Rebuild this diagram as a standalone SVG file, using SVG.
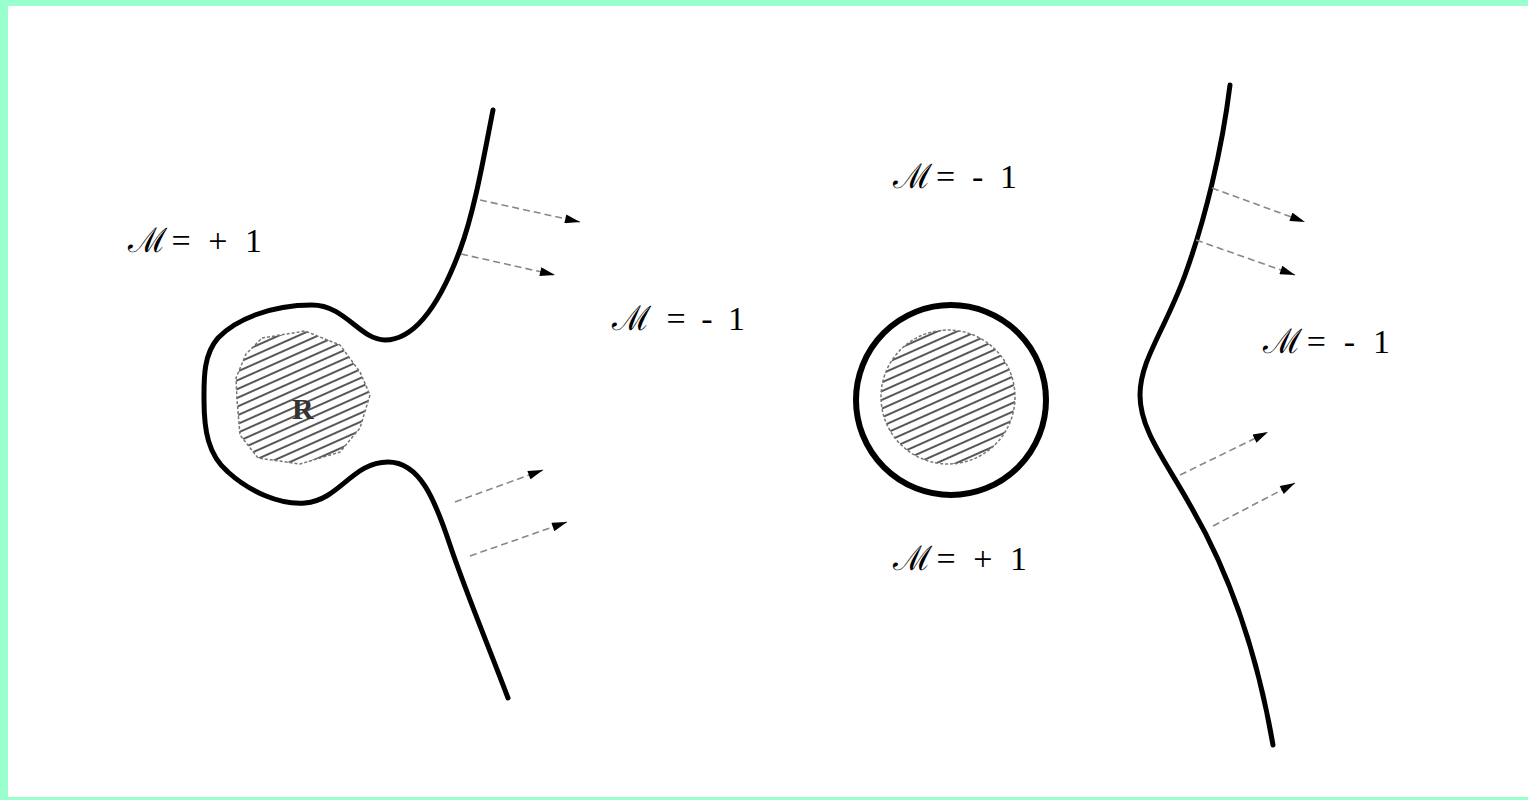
<svg xmlns="http://www.w3.org/2000/svg" width="1528" height="800" viewBox="0 0 1528 800">
<style>
.curve{fill:none;stroke:#000;stroke-width:5;stroke-linecap:round;stroke-linejoin:round}
.arrow{fill:none;stroke:#888;stroke-width:1.6;stroke-dasharray:7 4;marker-end:url(#ah)}
.lbl{font-family:"Liberation Serif",serif;font-size:34px;fill:#000}
.m{font-family:"DejaVu Serif",serif}
.blob{fill:url(#hatch);stroke:#777;stroke-width:1.5;stroke-dasharray:3 2}
</style>
<defs>
<pattern id="hatch" patternUnits="userSpaceOnUse" width="8" height="8" patternTransform="rotate(-24)">
<rect width="8" height="8" fill="#fff"/>
<line x1="0" y1="4" x2="8" y2="4" stroke="#444" stroke-width="1.8"/>
</pattern>
<marker id="ah" viewBox="0 0 10 6" refX="10" refY="3" markerWidth="16" markerHeight="9" markerUnits="userSpaceOnUse" orient="auto">
<path d="M0,0 L10,3 L0,6 Z" fill="#000"/>
</marker>
</defs>
<rect x="0" y="0" width="1528" height="800" fill="#99FFCC"/>
<rect x="8" y="6" width="1520" height="791" fill="#fff"/>

<g id="left-region">
<path class="curve" d="M493,110 C485,150 475,210 460,250 C445,290 420,340 385,340 C360,340 345,305 312,305 C270,305 235,320 218,338 C203,355 204,380 204,400 C204,430 208,455 228,472 C250,492 280,505 305,503 C340,500 352,462 388,462 C420,462 435,500 450,545 C465,590 490,650 508,698"/>
</g>
<g id="R-blob">
<path class="blob" d="M262,338 L305,331 L340,345 L360,372 L370,395 L360,428 L340,452 L300,464 L258,458 L240,435 L237,400 L236,378 L246,354 Z"/>
<text x="292" y="419" font-family="Liberation Serif, serif" font-size="30" font-weight="bold" fill="#333">R</text>
</g>

<g id="right-circle">
<circle cx="951" cy="400" r="95" fill="none" stroke="#000" stroke-width="6"/>
<circle class="blob" cx="948" cy="397" r="67"/>
</g>

<g id="right-region">
<path class="curve" d="M1230,85 C1222,150 1205,220 1185,275 C1165,330 1140,360 1140,395 C1140,430 1165,460 1190,505 C1225,565 1255,640 1273,745"/>
</g>

<g id="connectors">
<line class="arrow" x1="480" y1="200" x2="580" y2="222"/>
<line class="arrow" x1="461" y1="254" x2="555" y2="275"/>
<line class="arrow" x1="455" y1="502" x2="543" y2="470"/>
<line class="arrow" x1="470" y1="556" x2="567" y2="522"/>
<line class="arrow" x1="1212" y1="188" x2="1305" y2="222"/>
<line class="arrow" x1="1196" y1="240" x2="1295" y2="275"/>
<line class="arrow" x1="1180" y1="475" x2="1268" y2="432"/>
<line class="arrow" x1="1213" y1="526" x2="1295" y2="483"/>
</g>

<g id="labels">
<text class="lbl" x="128" y="252" textLength="134" lengthAdjust="spacing"><tspan class="m">ℳ</tspan>= + 1</text>
<text class="lbl" x="612" y="330" textLength="133" lengthAdjust="spacing"><tspan class="m">ℳ</tspan> = - 1</text>
<text class="lbl" x="893" y="188" textLength="124" lengthAdjust="spacing"><tspan class="m">ℳ</tspan>= - 1</text>
<text class="lbl" x="1263" y="353" textLength="127" lengthAdjust="spacing"><tspan class="m">ℳ</tspan>= - 1</text>
<text class="lbl" x="893" y="570" textLength="134" lengthAdjust="spacing"><tspan class="m">ℳ</tspan>= + 1</text>
</g>
</svg>
